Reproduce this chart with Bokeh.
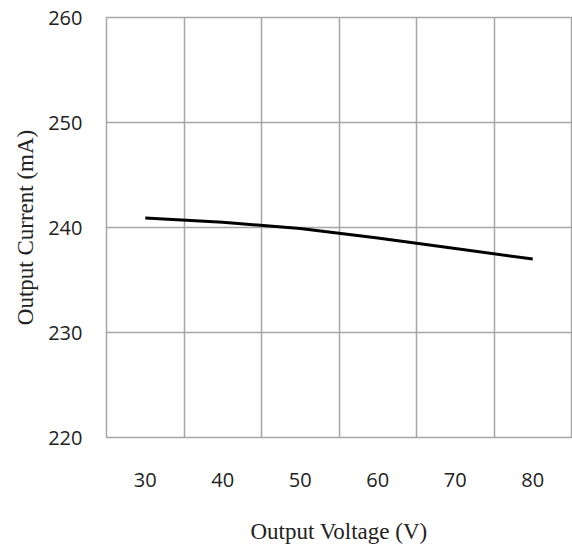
from bokeh.plotting import figure
from bokeh.models import FixedTicker, Range1d
from bokeh.embed import file_html
from bokeh.resources import INLINE

voltage = [30, 40, 50, 60, 70, 80]
current = [240.9, 240.5, 239.9, 239.0, 238.0, 237.0]
x_ticks = [30, 40, 50, 60, 70, 80]
x_grid = [25, 35, 45, 55, 65, 75, 85]
y_ticks = [220, 230, 240, 250, 260]

p = figure(width=572, height=552, output_backend="svg", toolbar_location=None,
           x_range=Range1d(25, 85), y_range=Range1d(220, 260),
           min_border_left=106, min_border_right=1, min_border_top=17, min_border_bottom=115)

p.line(voltage, current, line_color="black", line_width=3)

grid_col = "#a6a6a6"
p.xaxis.ticker = FixedTicker(ticks=x_ticks)
p.xgrid.ticker = FixedTicker(ticks=x_grid)
p.yaxis.ticker = FixedTicker(ticks=y_ticks)
p.ygrid.ticker = FixedTicker(ticks=y_ticks)
for g in (p.xgrid, p.ygrid):
    g.grid_line_color = grid_col
    g.grid_line_width = 1.5
    g.grid_line_alpha = 1.0

p.outline_line_color = grid_col
p.outline_line_width = 1.5
p.outline_line_alpha = 1.0

for ax in (p.xaxis, p.yaxis):
    ax.axis_line_color = None
    ax.major_tick_line_color = None
    ax.minor_tick_line_color = None
    ax.major_tick_out = 0
    ax.major_tick_in = 0
    ax.major_label_text_font = "Open Sans"
    ax.major_label_text_font_size = "20px"
    ax.major_label_text_color = "#222222"
    ax.axis_label_text_font = "Liberation Serif"
    ax.axis_label_text_font_style = "normal"
    ax.axis_label_text_font_size = "23px"
    ax.axis_label_text_color = "#222222"

p.xaxis.axis_label = "Output Voltage (V)"
p.yaxis.axis_label = "Output Current (mA)"
p.xaxis.major_label_standoff = 35
p.xaxis.axis_label_standoff = 29
p.yaxis.major_label_standoff = 24
p.yaxis.axis_label_standoff = 7

p.background_fill_color = "white"
p.border_fill_color = "white"

open("out.html", "w").write(file_html(p, INLINE))
